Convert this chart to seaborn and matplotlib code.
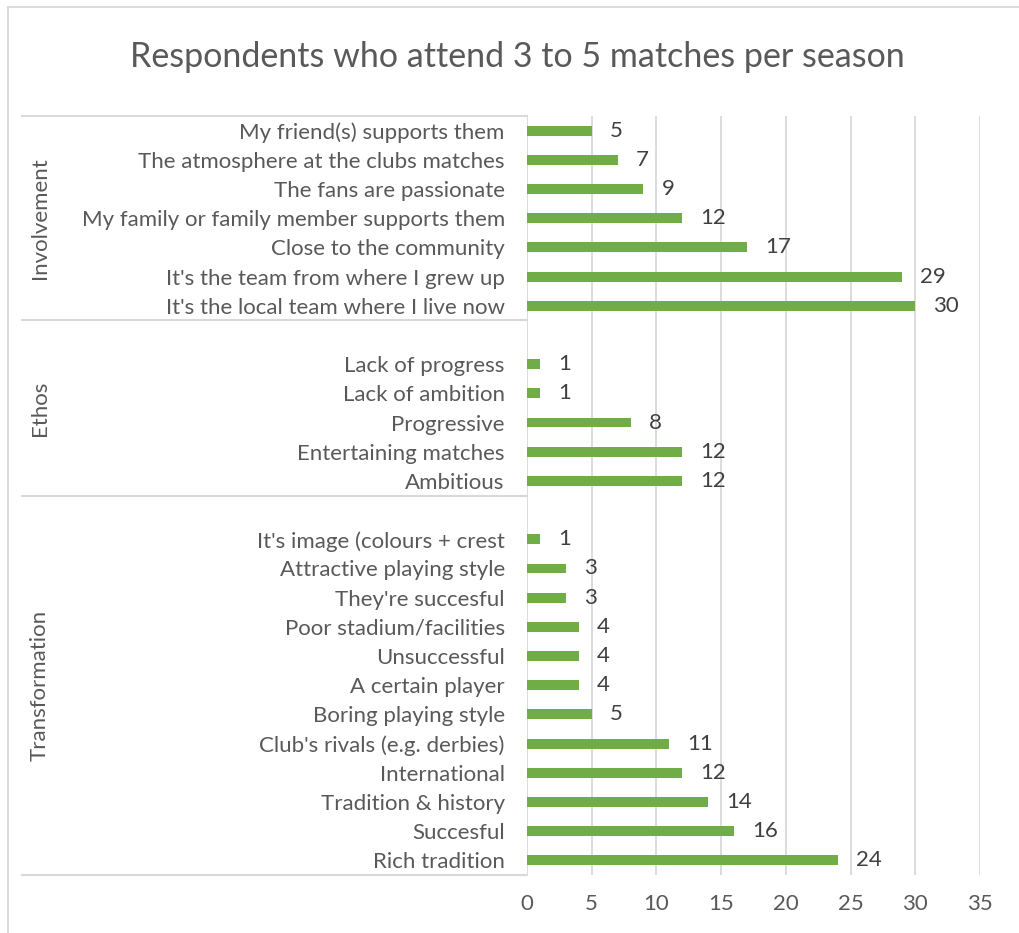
import matplotlib
matplotlib.use("Agg")
import matplotlib.pyplot as plt
import matplotlib.transforms as mtransforms
from matplotlib.lines import Line2D
import seaborn as sns
import pandas as pd

title = "Respondents who attend 3 to 5 matches per season"

group_names = ["Involvement", "Ethos", "Transformation"]

involvement_labels = [
    "My friend(s) supports them",
    "The atmosphere at the clubs matches",
    "The fans are passionate",
    "My family or family member supports them",
    "Close to the community",
    "It's the team from where I grew up",
    "It's the local team where I live now",
]
involvement_values = [5, 7, 9, 12, 17, 29, 30]

ethos_labels = [
    "Lack of progress",
    "Lack of ambition",
    "Progressive",
    "Entertaining matches",
    "Ambitious",
]
ethos_values = [1, 1, 8, 12, 12]

transformation_labels = [
    "It's image (colours + crest",
    "Attractive playing style",
    "They're succesful",
    "Poor stadium/facilities",
    "Unsuccessful",
    "A certain player",
    "Boring playing style",
    "Club's rivals (e.g. derbies)",
    "International",
    "Tradition & history",
    "Succesful",
    "Rich tradition",
]
transformation_values = [1, 3, 3, 4, 4, 4, 5, 11, 12, 14, 16, 24]

x_ticks = [0, 5, 10, 15, 20, 25, 30, 35]

# ---- build table ----
df = pd.DataFrame({
    "reason": involvement_labels + ethos_labels + transformation_labels,
    "value": involvement_values + ethos_values + transformation_values,
})
# category order incl. the empty slots at top of the 2nd and 3rd groups
order = involvement_labels + [" "] + ethos_labels + ["  "] + transformation_labels
group_slices = [
    (0, len(involvement_labels)),
    (len(involvement_labels), len(involvement_labels) + 1 + len(ethos_labels)),
    (len(involvement_labels) + 1 + len(ethos_labels), len(order)),
]

plt.rcParams["font.family"] = ["Lato", "DejaVu Sans"]
TXT = "#595959"
GRID = "#D9D9D9"
BAR = "#70AD47"
FS = 16

W, H = 1020, 933
fig = plt.figure(figsize=(W / 100, H / 100), dpi=100)
fig.patch.set_facecolor("white")

ax_l, ax_r, ax_t, ax_b = 527, 980, 116, 875
ax = fig.add_axes([ax_l / W, 1 - ax_b / H, (ax_r - ax_l) / W, (ax_b - ax_t) / H])

sns.barplot(data=df, x="value", y="reason", order=order, color=BAR,
            saturation=1, width=0.34, orient="h", ax=ax, errorbar=None)

ax.set_xlim(0, 35)
ax.set_xticks(x_ticks)
ax.set_xticklabels([str(t) for t in x_ticks])
ax.set_xlabel("")
ax.set_ylabel("")
ax.xaxis.grid(True, color=GRID, linewidth=1.3)
ax.yaxis.grid(False)
ax.set_axisbelow(True)
for s in ax.spines.values():
    s.set_visible(False)
ax.tick_params(axis="x", length=0, pad=14, labelsize=FS, labelcolor=TXT)
ax.tick_params(axis="y", length=0, pad=16, labelsize=FS, labelcolor=TXT)

for c in ax.containers:
    ax.bar_label(c, padding=13, fontsize=FS, color="#404040")

# group labels and separators
tr = mtransforms.blended_transform_factory(fig.transFigure, ax.transData)
for name, (a, b) in zip(group_names, group_slices):
    ymid = (a - 0.5 + b - 0.5) / 2
    fig.text(40 / W, ymid, name, transform=tr, rotation=90, ha="center",
             va="center", fontsize=FS, color=TXT)
seps = [-0.5] + [b - 0.5 for (_, b) in group_slices]
for y in seps:
    fig.add_artist(Line2D([22 / W, ax_l / W], [y, y], transform=tr,
                          color=GRID, linewidth=1.5))

# outer chart border (partially visible)
fig.add_artist(Line2D([8 / W, 1], [1 - 7 / H, 1 - 7 / H], transform=fig.transFigure,
                      color=GRID, linewidth=1.3))
fig.add_artist(Line2D([8 / W, 8 / W], [0, 1 - 7 / H], transform=fig.transFigure,
                      color=GRID, linewidth=1.3))

fig.text(517 / W, 1 - 57 / H, title, ha="center", va="center",
         fontsize=24.5, color=TXT)

fig.savefig("out.png", dpi=100, facecolor="white")
